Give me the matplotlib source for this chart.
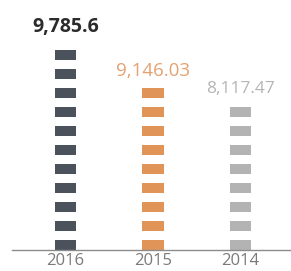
import matplotlib
matplotlib.use("Agg")
import matplotlib.pyplot as plt

years = ["2016", "2015", "2014"]
values = [9785.6, 9146.03, 8117.47]
value_labels = ["9,785.6", "9,146.03", "8,117.47"]
segments = [11, 9, 8]

bar_colors = ["#4b525c", "#e09458", "#b3b3b3"]
text_colors = ["#2b2b2b", "#e4a271", "#b5b5b5"]
text_weights = ["bold", "normal", "normal"]
text_sizes = [14, 13.5, 12.5]
text_offsets = [13, 9, 10]

plt.rcParams['font.family'] = ['Open Sans', 'DejaVu Sans']

fig = plt.figure(figsize=(2.91, 2.71), dpi=100)
W, H = 291, 271
ax = fig.add_axes([12 / W, (H - 250) / H, (W - 12) / W, (250 - 5) / H])

seg_h = 10 / 19
for i, (n, c) in enumerate(zip(segments, bar_colors)):
    for k in range(n):
        ax.bar(i, seg_h, bottom=k, width=0.25, color=c, linewidth=0)
    ax.annotate(value_labels[i], xy=(i, n - 1 + seg_h), xytext=(0, text_offsets[i]),
                textcoords="offset points", ha="center", va="baseline",
                color=text_colors[i], fontsize=text_sizes[i], fontweight=text_weights[i])

ax.set_xlim(-0.611, 2.577)
ax.set_ylim(0, 245 / 19)
ax.set_xticks(range(len(years)))
ax.set_xticklabels(years, fontsize=12, color="#7a7a7a")
ax.tick_params(axis="x", length=0, pad=2)
ax.set_yticks([])
for s in ["top", "right", "left"]:
    ax.spines[s].set_visible(False)
ax.spines["bottom"].set_color("#8c8c8c")
ax.spines["bottom"].set_linewidth(1)

fig.savefig("out.png", dpi=100)
